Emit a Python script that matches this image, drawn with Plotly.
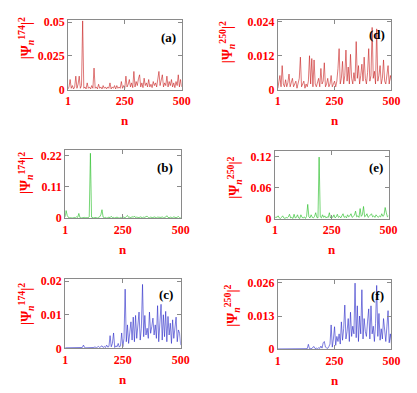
import plotly.graph_objects as go

# site index n (sampled every 5 sites)
n = [1] + list(range(5, 501, 5))

# |psi_n^174|^2, row 1 (a)  (units of 1e-3)
psi_a = [0.5, 2, 7.5, 1, 3, 0.5, 2, 10, 1, 4,
         10, 1, 3, 51, 1, 2, 0.5, 5, 1, 2,
         0.5, 3, 1, 16, 1, 2, 0.5, 4, 1, 2,
         0.5, 3, 1, 2, 0.5, 2, 1, 5, 0.5, 2,
         1, 3, 0.5, 3, 1, 2, 1, 6, 1, 3,
         1, 10, 2, 4, 7.5, 2, 5, 1.5, 13.5, 2,
         6, 3, 8, 11, 2, 5, 1.5, 8.5, 3, 5,
         2, 7.5, 2, 4, 1.5, 6, 3, 5, 2, 7,
         13.5, 3, 8, 11, 2, 5, 3, 10, 2, 6,
         3, 7.5, 2, 5, 1.5, 6, 3, 11, 2, 7.5, 2]
# |psi_n^250|^2, row 1 (d)  (units of 1e-3)
psi_d = [0.5, 2, 5, 1, 8.5, 2, 1, 3.5, 1, 2.5,
         5.5, 1, 3, 4, 1, 2, 3, 0.5, 2, 4,
         11.5, 1, 2, 3, 0.5, 2, 1, 3, 12, 2,
         11, 1, 10.5, 2, 1, 3, 4, 1, 7.5, 2,
         3, 9.5, 1, 2, 4, 1, 2, 5, 1, 2,
         3, 1, 3, 7.5, 14.5, 2, 4, 10, 2, 5,
         14, 3, 8, 2, 12.5, 4, 2, 6, 3, 17,
         4, 8.5, 2, 5, 9, 3, 11.5, 4, 2, 6,
         14.5, 3, 5, 22, 4, 6.5, 2, 21.5, 3, 5,
         8.5, 2, 4, 10.5, 3, 2, 6, 8.5, 2, 5, 3]
# row 2 (b) and (e)  (units of 1e-3)
psi_b = [5, 27, 10, 3, 2, 1, 2, 1, 3, 2,
         5, 3, 17, 2, 1, 2, 1, 3, 2, 1,
         2, 5, 228, 4, 2, 1, 3, 2, 1, 3,
         5, 12, 30, 4, 2, 3, 1, 2, 4, 2,
         7, 2, 3, 1, 2, 4, 2, 1, 3, 2,
         5, 3, 2, 6, 10, 3, 4, 2, 6, 3,
         8, 2, 4, 3, 2, 5, 3, 2, 4, 3,
         6, 7, 3, 2, 4, 3, 2, 5, 3, 2,
         4, 3, 2, 3, 5, 2, 3, 4, 9, 3,
         2, 4, 3, 2, 5, 3, 2, 4, 6, 2, 3]
psi_e = [2, 4, 3, 6, 2, 1, 3, 6, 2, 1,
         3, 2, 4, 9, 2, 3, 1, 9, 2, 3,
         8, 2, 1, 8, 3, 2, 4, 1, 5, 28,
         4, 2, 8, 3, 2, 5, 12, 3, 2, 119,
         4, 2, 8, 3, 6, 2, 4, 3, 12, 2,
         5, 3, 8, 2, 4, 9, 3, 5, 2, 6,
         10, 3, 5, 2, 8, 4, 6, 10, 3, 5,
         7, 15, 4, 6, 3, 20, 5, 8, 24, 4,
         6, 10, 3, 5, 7, 10, 4, 6, 3, 8,
         5, 3, 6, 4, 10, 5, 7, 22, 12, 4, 6]
# row 3 (c) and (f)  (units of 1e-4)
psi_c = [2, 2, 2, 2, 2, 2, 2, 2, 2, 2,
         2, 2, 2, 3, 2, 3, 10, 3, 2, 2,
         3, 2, 2, 3, 2, 3, 5, 2, 4, 6,
         3, 5, 8, 3, 6, 3, 10, 4, 6, 38,
         5, 15, 46, 3, 8, 5, 15, 4, 8, 46,
         5, 30, 176, 20, 70, 15, 60, 79, 25, 93,
         20, 98, 30, 70, 108, 25, 60, 190, 35, 98,
         40, 60, 30, 108, 45, 65, 90, 40, 70, 30,
         127, 20, 90, 131, 25, 100, 35, 110, 20, 95,
         40, 75, 15, 85, 30, 60, 93, 20, 55, 45, 10]
psi_f = [1, 1, 1, 1, 1, 1, 1, 1, 1, 1,
         1, 3, 1, 1, 1, 2, 1, 1, 1, 2,
         1, 1, 2, 1, 3, 1, 2, 19, 2, 3,
         2, 8, 10, 2, 4, 1, 6, 3, 12, 4,
         25, 30, 8, 5, 3, 10, 20, 95, 8, 40,
         88, 15, 50, 30, 60, 20, 107, 35, 80, 173,
         40, 70, 120, 30, 145, 50, 90, 60, 259, 45,
         170, 30, 130, 60, 233, 40, 120, 70, 50, 110,
         158, 40, 170, 60, 90, 30, 100, 250, 50, 140,
         35, 80, 40, 120, 60, 30, 90, 151, 25, 60, 20]

panels = [
    # data, scale, color, y ticks, tick text, y max, label, state, x px, y px, label pos, title pos (px)
    (psi_a, 1e-3, "rgba(200,30,30,0.75)", [0, 0.025, 0.05], ["0", "0.025", "0.05"], 0.052,
     "(a)", "174", [67, 184], [15, 87.3], (0.88, 0.74), (24, 34)),
    (psi_b, 1e-3, "rgba(40,190,40,0.8)", [0, 0.11, 0.22], ["0", "0.11", "0.22"], 0.238,
     "(b)", "174", [64, 183], [150, 220], (0.866, 0.75), (23, 173)),
    (psi_c, 1e-4, "rgba(40,40,200,0.75)", [0, 0.01, 0.02], ["0", "0.01", "0.02"], 0.0205,
     "(c)", "174", [64, 183], [283, 354.3], (0.874, 0.785), (23, 308)),
    (psi_d, 1e-3, "rgba(200,30,30,0.75)", [0, 0.012, 0.024], ["0", "0.012", "0.024"], 0.0248,
     "(d)", "250", [283, 400], [15, 87.3], (0.87, 0.79), (231, 38)),
    (psi_e, 1e-3, "rgba(40,190,40,0.8)", [0, 0.06, 0.12], ["0", "0.06", "0.12"], 0.13,
     "(e)", "250", [280, 397], [151, 220.7], (0.89, 0.76), (238, 178)),
    (psi_f, 1e-4, "rgba(40,40,200,0.75)", [0, 0.013, 0.026], ["0", "0.013", "0.026"], 0.027,
     "(f)", "250", [283, 400], [284, 355], (0.88, 0.775), (235, 310)),
]

W, H = 417, 393
SERIF = "Liberation Serif, Times New Roman, Times, serif"
tick_font = dict(family=SERIF, size=12, color="red", weight="bold")
fig = go.Figure()
annotations = []

for i, (vals, scale, color, tv, tt, ymax, lab, state, xd, yd, lpos, tpos) in enumerate(panels, start=1):
    xa = "x" if i == 1 else f"x{i}"
    ya = "y" if i == 1 else f"y{i}"
    fig.add_trace(go.Scatter(x=n, y=[v * scale for v in vals], mode="lines",
                             line=dict(color=color, width=0.8),
                             xaxis=xa, yaxis=ya, showlegend=False))
    axis_common = dict(showline=True, linecolor="#8a8a8a", linewidth=1, mirror="allticks",
                       ticks="inside", ticklen=4, tickcolor="#8a8a8a", showgrid=False,
                       zeroline=False, tickfont=tick_font)
    fig.layout[f"xaxis{i}"] = dict(axis_common, domain=[xd[0] / W, xd[1] / W],
                                   range=[1, 500], tickvals=[1, 250, 500],
                                   anchor=ya)
    fig.layout[f"yaxis{i}"] = dict(axis_common, domain=[1 - yd[1] / H, 1 - yd[0] / H],
                                   range=[0, ymax], tickvals=tv, ticktext=tt,
                                   anchor=xa)
    # panel label
    annotations.append(dict(xref=f"{xa} domain", yref=f"{ya} domain", x=lpos[0], y=lpos[1],
                            xanchor="center", yanchor="middle",
                            text=f"<b>{lab}</b>", showarrow=False,
                            font=dict(family=SERIF, size=13, color="black")))
    # x title
    annotations.append(dict(xref=f"{xa} domain", yref=f"{ya} domain", x=0.5, y=0,
                            xanchor="center", yanchor="middle",
                            yshift=-31, text="<b>n</b>", showarrow=False,
                            font=dict(family=SERIF, size=13, color="red")))
    # y title
    annotations.append(dict(xref="paper", yref="paper", x=tpos[0] / W, y=1 - tpos[1] / H,
                            xanchor="center", yanchor="middle",
                            text=f"<b>|Ψ<sub><i>n</i></sub><sup>{state}</sup>|<sup>2</sup></b>",
                            textangle=-90, showarrow=False,
                            font=dict(family=SERIF, size=14, color="red")))

fig.update_layout(width=W, height=H, margin=dict(l=0, r=0, t=0, b=0),
                  paper_bgcolor="white", plot_bgcolor="white",
                  hovermode=False, annotations=annotations)

# drop the default page margin so the figure fills the window exactly
fig.write_html("out.html", config={"displayModeBar": False},
               post_script="document.body.style.margin='0';document.body.style.overflow='hidden';")
